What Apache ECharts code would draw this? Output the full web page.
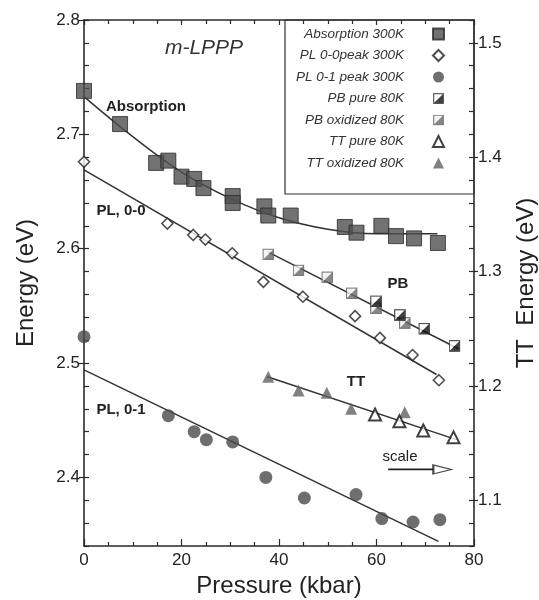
<!DOCTYPE html>
<html><head><meta charset="utf-8">
<script src="https://cdn.jsdelivr.net/npm/echarts@6/dist/echarts.min.js"></script>
<style>html,body{margin:0;padding:0;background:#fff}#c{width:539px;height:600px}</style>
</head><body><div id="c"></div>
<script>
// ---- data ----
const absX  = [0, 7.4, 14.8, 17.3, 20.0, 22.6, 24.5, 30.5, 30.5, 37.0, 37.8, 42.4, 53.5, 55.9, 61.0, 64.0, 67.7, 72.6];
const absE  = [2.738, 2.709, 2.675, 2.677, 2.663, 2.661, 2.653, 2.646, 2.640, 2.637, 2.629, 2.629, 2.619, 2.614, 2.620, 2.611, 2.609, 2.605];
const pl00X = [0, 17.1, 22.4, 24.9, 30.4, 36.8, 44.9, 55.6, 60.7, 67.4, 72.8];
const pl00E = [2.676, 2.622, 2.612, 2.608, 2.596, 2.571, 2.558, 2.541, 2.522, 2.507, 2.485];
const pl01X = [0, 17.3, 22.6, 25.1, 30.5, 37.3, 45.2, 55.8, 61.1, 67.5, 73.0];
const pl01E = [2.523, 2.454, 2.440, 2.433, 2.431, 2.400, 2.382, 2.385, 2.364, 2.361, 2.363];
const pbPureX = [59.9, 64.8, 69.8, 76.0];
const pbPureT = [1.274, 1.262, 1.250, 1.235];
const pbOxX = [37.8, 44.0, 49.9, 54.9, 59.9, 65.8];
const pbOxT = [1.315, 1.301, 1.295, 1.281, 1.268, 1.255];
const ttPureX = [59.7, 64.7, 69.6, 75.8];
const ttPureT = [1.175, 1.169, 1.161, 1.155];
const ttOxX = [37.8, 44.0, 49.8, 54.8, 65.8];
const ttOxT = [1.208, 1.196, 1.194, 1.180, 1.177];
// fitted lines as drawn
const absFitX = [0, 10, 20, 30, 40, 50, 60, 72.5];
const absFitE = [2.733, 2.698, 2.667, 2.644, 2.627, 2.617, 2.613, 2.613];
const pl00FitX = [0, 72.3];
const pl00FitE = [2.669, 2.490];
const pl01FitX = [0, 72.7];
const pl01FitE = [2.494, 2.344];
const pbFitX = [37.8, 76.8];
const pbFitT = [1.317, 1.2325];
const ttFitX = [37.6, 76.4];
const ttFitT = [1.208, 1.153];
// scale arrow (right axis)
const arrowX = [62.4, 71.7];
const arrowHeadX = [73.5];
const arrowT = 1.127;
// ticks
const xTicks = [0, 20, 40, 60, 80];
const leftMajor = [2.4, 2.5, 2.6, 2.7, 2.8];
const rightMajor = [1.1, 1.2, 1.3, 1.4, 1.5];
const legendNames = ['Absorption 300K', 'PL 0-0peak 300K', 'PL 0-1 peak 300K', 'PB pure 80K', 'PB oxidized 80K', 'TT pure 80K', 'TT oxidized 80K'];

const zip = (a, b) => a.map((v, i) => [v, b[i]]);
const FONT = 'Liberation Sans, Arial, Helvetica, sans-serif';
const AX = '#2b2b2b';

function svgIcon(upper, lower, stroke) {
  const s = "<svg xmlns='http://www.w3.org/2000/svg' width='24' height='24' viewBox='0 0 24 24'>" +
    "<polygon points='1,1 23,1 1,23' fill='" + upper + "'/>" +
    "<polygon points='23,1 23,23 1,23' fill='" + lower + "'/>" +
    "<rect x='1.5' y='1.5' width='21' height='21' fill='none' stroke='" + stroke + "' stroke-width='2.4'/></svg>";
  return 'image://data:image/svg+xml;charset=utf-8,' + encodeURIComponent(s);
}
const pbPureSym = svgIcon('#ffffff', '#111111', '#222222');
const pbOxSym = svgIcon('#f2f2f2', '#6a6a6a', '#5a5a5a');

const labFmt = v => (Math.abs(v * 10 - Math.round(v * 10)) < 1e-6) ? v.toFixed(1) : '';

const chart = echarts.init(document.getElementById('c'), null, {renderer: 'canvas'});
const lineStyleFit = {color: '#333', width: 1.5};

chart.setOption({
  animation: false,
  backgroundColor: '#fff',
  textStyle: {fontFamily: FONT},
  grid: {left: 84, right: 65, top: 20, bottom: 54, containLabel: false, outerBoundsMode: 'none'},
  xAxis: [
    {type: 'value', position: 'bottom', min: 0, max: 80, interval: 20,
     axisLine: {lineStyle: {color: AX, width: 1.6}},
     axisTick: {inside: true, length: 7, lineStyle: {color: AX, width: 1.2}},
     minorTick: {show: true, splitNumber: 4, length: 4, lineStyle: {color: AX, width: 1.2}},
     axisLabel: {fontSize: 17, color: '#222', margin: 6, fontFamily: FONT},
     splitLine: {show: false},
     name: 'Pressure (kbar)', nameLocation: 'middle', nameGap: 26,
     nameTextStyle: {fontSize: 24, color: '#222', fontFamily: FONT}},
    {type: 'value', position: 'top', min: 0, max: 80, interval: 20,
     axisLine: {lineStyle: {color: AX, width: 1.6}},
     axisTick: {inside: true, length: 5, lineStyle: {color: AX, width: 1.2}},
     minorTick: {show: true, splitNumber: 4, length: 4, lineStyle: {color: AX, width: 1.2}},
     axisLabel: {show: false}, splitLine: {show: false}}
  ],
  yAxis: [
    {type: 'value', position: 'left', min: 2.34, max: 2.8, interval: 0.02,
     axisLine: {show: true, lineStyle: {color: AX, width: 1.6}},
     axisTick: {show: true, inside: false, length: 5, customValues: leftMajor, lineStyle: {color: AX, width: 1.2}},
     axisLabel: {formatter: labFmt, customValues: leftMajor, fontSize: 17, color: '#222', margin: 4, fontFamily: FONT},
     splitLine: {show: false},
     name: 'Energy (eV)', nameLocation: 'middle', nameGap: 46, nameRotate: 90,
     nameTextStyle: {fontSize: 24, color: '#222', fontFamily: FONT}},
    {type: 'value', position: 'left', min: 2.34, max: 2.8, interval: 0.02,
     axisLine: {show: false},
     axisTick: {show: true, inside: true, length: 5, lineStyle: {color: AX, width: 1.2}},
     axisLabel: {show: false}, splitLine: {show: false}},
    {type: 'value', position: 'right', min: 1.06, max: 1.52, interval: 0.02,
     axisLine: {show: true, lineStyle: {color: AX, width: 1.6}},
     axisTick: {show: true, inside: false, length: 4, customValues: rightMajor, lineStyle: {color: AX, width: 1.2}},
     axisLabel: {formatter: labFmt, customValues: rightMajor, fontSize: 17, color: '#222', margin: 4, fontFamily: FONT},
     splitLine: {show: false},
     name: 'TT  Energy (eV)', nameLocation: 'middle', nameGap: 40, nameRotate: 90,
     nameTextStyle: {fontSize: 24, color: '#222', fontFamily: FONT}},
    {type: 'value', position: 'right', min: 1.06, max: 1.52, interval: 0.02,
     axisLine: {show: false},
     axisTick: {show: true, inside: true, length: 5, lineStyle: {color: AX, width: 1.2}},
     axisLabel: {show: false}, splitLine: {show: false}}
  ],
  legend: {
    orient: 'vertical', right: 94, top: 27, align: 'right', padding: 0,
    itemWidth: 11, itemHeight: 11, itemGap: 7.5,
    data: legendNames,
    formatter: '{t|{name}}',
    textStyle: {rich: {t: {fontStyle: 'italic', fontSize: 13.5, color: '#333', fontFamily: FONT, lineHeight: 16, padding: [0, 24, 0, 0]}}}
  },
  series: [
    {type: 'line', xAxisIndex: 0, yAxisIndex: 0, data: zip(absFitX, absFitE), smooth: 0.4, showSymbol: false, symbol: 'none', lineStyle: lineStyleFit, z: 2},
    {type: 'line', xAxisIndex: 0, yAxisIndex: 0, data: zip(pl00FitX, pl00FitE), showSymbol: false, symbol: 'none', lineStyle: lineStyleFit, z: 2},
    {type: 'line', xAxisIndex: 0, yAxisIndex: 0, data: zip(pl01FitX, pl01FitE), showSymbol: false, symbol: 'none', lineStyle: lineStyleFit, z: 2},
    {type: 'line', xAxisIndex: 0, yAxisIndex: 2, data: zip(pbFitX, pbFitT), showSymbol: false, symbol: 'none', lineStyle: lineStyleFit, z: 2},
    {type: 'line', xAxisIndex: 0, yAxisIndex: 2, data: zip(ttFitX, ttFitT), showSymbol: false, symbol: 'none', lineStyle: lineStyleFit, z: 2},
    {name: 'Absorption 300K', type: 'scatter', xAxisIndex: 0, yAxisIndex: 0, data: zip(absX, absE),
     symbol: 'rect', symbolSize: 15, itemStyle: {color: '#4f4f4f', borderColor: '#2a2a2a', borderWidth: 1}, z: 5},
    {name: 'PL 0-0peak 300K', type: 'scatter', xAxisIndex: 0, yAxisIndex: 0, data: zip(pl00X, pl00E),
     symbol: 'diamond', symbolSize: 11, itemStyle: {color: '#fff', borderColor: '#222', borderWidth: 1.6}, z: 5},
    {name: 'PL 0-1 peak 300K', type: 'scatter', xAxisIndex: 0, yAxisIndex: 0, data: zip(pl01X, pl01E),
     symbol: 'circle', symbolSize: 13, itemStyle: {color: '#4a4a4a'}, z: 5},
    {name: 'PB pure 80K', type: 'scatter', xAxisIndex: 0, yAxisIndex: 2, data: zip(pbPureX, pbPureT),
     symbol: pbPureSym, symbolSize: 12, itemStyle: {color: '#222'}, z: 6},
    {name: 'PB oxidized 80K', type: 'scatter', xAxisIndex: 0, yAxisIndex: 2, data: zip(pbOxX, pbOxT),
     symbol: pbOxSym, symbolSize: 12, itemStyle: {color: '#777'}, z: 5},
    {name: 'TT pure 80K', type: 'scatter', xAxisIndex: 0, yAxisIndex: 2, data: zip(ttPureX, ttPureT),
     symbol: 'triangle', symbolSize: 12, itemStyle: {color: '#fff', borderColor: '#111', borderWidth: 2}, z: 6},
    {name: 'TT oxidized 80K', type: 'scatter', xAxisIndex: 0, yAxisIndex: 2, data: zip(ttOxX, ttOxT),
     symbol: 'triangle', symbolSize: 12, itemStyle: {color: '#616161'}, z: 5},
    // scale arrow
    {type: 'line', xAxisIndex: 0, yAxisIndex: 2, data: arrowX.map(x => [x, arrowT]), showSymbol: false, symbol: 'none',
     lineStyle: {color: '#222', width: 1.6}, z: 4},
    {type: 'scatter', xAxisIndex: 0, yAxisIndex: 2, data: arrowHeadX.map(x => [x, arrowT]),
     symbol: 'triangle', symbolRotate: -90, symbolSize: [9, 18], itemStyle: {color: '#fff', borderColor: '#222', borderWidth: 1.6}, z: 4}
  ],
  graphic: [
    {type: 'rect', shape: {x: 285, y: 20, width: 189, height: 174}, style: {fill: 'none', stroke: '#333', lineWidth: 1.2}, z: 1},
    {type: 'text', x: 204, y: 48, style: {text: 'm-LPPP', font: 'italic 21px ' + FONT, fill: '#333', align: 'center', verticalAlign: 'middle'}},
    {type: 'text', x: 146, y: 107, style: {text: 'Absorption', font: 'bold 15px ' + FONT, fill: '#222', align: 'center', verticalAlign: 'middle'}},
    {type: 'text', x: 121, y: 211, style: {text: 'PL, 0-0', font: 'bold 15px ' + FONT, fill: '#222', align: 'center', verticalAlign: 'middle'}},
    {type: 'text', x: 121, y: 410, style: {text: 'PL, 0-1', font: 'bold 15px ' + FONT, fill: '#222', align: 'center', verticalAlign: 'middle'}},
    {type: 'text', x: 398, y: 284, style: {text: 'PB', font: 'bold 15px ' + FONT, fill: '#222', align: 'center', verticalAlign: 'middle'}},
    {type: 'text', x: 356, y: 382, style: {text: 'TT', font: 'bold 15px ' + FONT, fill: '#222', align: 'center', verticalAlign: 'middle'}},
    {type: 'text', x: 400, y: 457, style: {text: 'scale', font: '15px ' + FONT, fill: '#222', align: 'center', verticalAlign: 'middle'}}
  ]
});
</script>
</body></html>
